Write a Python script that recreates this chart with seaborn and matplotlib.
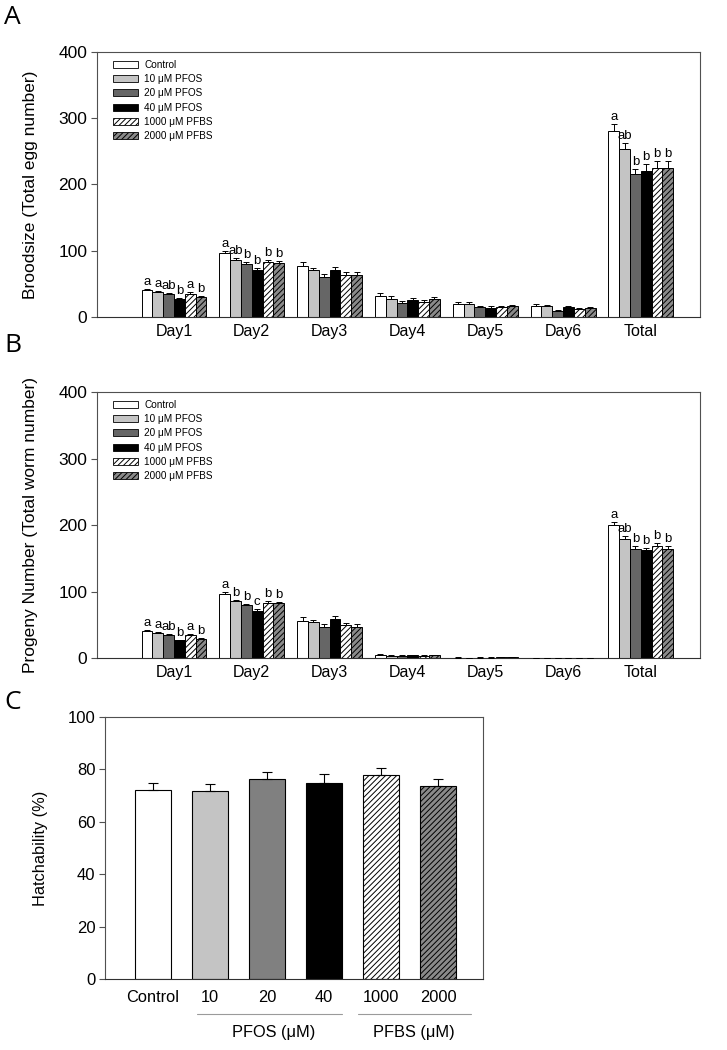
import numpy as np
import pandas as pd
import matplotlib
matplotlib.use('Agg')
import matplotlib.pyplot as plt
import seaborn as sns
from matplotlib.patches import Patch
import matplotlib.transforms as mtransforms

# -- data --
days = ['Day1', 'Day2', 'Day3', 'Day4', 'Day5', 'Day6', 'Total']
groups = ['Control', '10 \u03bcM PFOS', '20 \u03bcM PFOS', '40 \u03bcM PFOS',
          '1000 \u03bcM PFBS', '2000 \u03bcM PFBS']

# rows = days, columns = groups
brood_mean = [
    [40, 37.5, 34, 27, 35, 30],
    [96.5, 85.5, 79.5, 71.5, 83, 82],
    [77, 70.5, 60.5, 71.5, 63, 63],
    [32, 27.5, 21, 25, 22.5, 26.5],
    [20, 20, 15, 13.5, 15, 16],
    [16, 16, 9, 15, 11.5, 13],
    [281, 254, 216, 221, 225, 225],
]
brood_sem = [
    [3, 2, 2, 2, 2, 2],
    [3, 3, 3, 3, 3, 3],
    [6, 4, 4, 4, 5, 5],
    [4, 4, 3, 3, 3, 3],
    [2, 2, 2, 3, 1.5, 1.5],
    [3, 2, 1.5, 2, 1.5, 1.5],
    [10, 9, 8, 10, 11, 11],
]
brood_letters = [
    ['a', 'a', 'ab', 'b', 'a', 'b'],
    ['a', 'ab', 'b', 'b', 'b', 'b'],
    None, None, None, None,
    ['a', 'ab', 'b', 'b', 'b', 'b'],
]

progeny_mean = [
    [40, 37, 34, 26.5, 34, 29],
    [97, 86, 79.5, 71, 83.5, 82.5],
    [56, 53.5, 46.5, 58.5, 49, 46.5],
    [5, 3, 3.5, 4, 3.5, 4],
    [0.8, 0.5, 0.7, 0.7, 1.0, 0.9],
    [0.3, 0.2, 0.3, 0.4, 0.3, 0.5],
    [200, 179, 164, 162, 168, 164],
]
progeny_sem = [
    [2, 1.5, 1.5, 1, 1.5, 1.5],
    [3, 2, 2, 2, 2, 2],
    [5, 4, 4, 5, 4, 5],
    [1, 1, 1, 1, 1, 1],
    [0.3, 0.3, 0.3, 0.3, 0.3, 0.3],
    [0.2, 0.2, 0.2, 0.2, 0.2, 0.2],
    [4, 4, 4, 3, 5, 4],
]
progeny_letters = [
    ['a', 'a', 'ab', 'b', 'a', 'b'],
    ['a', 'b', 'b', 'c', 'b', 'b'],
    None, None, None, None,
    ['a', 'ab', 'b', 'b', 'b', 'b'],
]

hatch_labels = ['Control', '10', '20', '40', '1000', '2000']
hatch_mean = [72.3, 71.8, 76.3, 74.9, 77.7, 73.7]
hatch_sem = [2.4, 2.6, 2.8, 3.2, 2.7, 2.5]

colors_ab = ['white', '#c4c4c4', '#666666', 'black', 'white', '#8a8a8a']
colors_c = ['white', '#c4c4c4', '#808080', 'black', 'white', '#8a8a8a']
hatched = [False, False, False, False, True, True]

# -- style --
sns.set_style('ticks')
plt.rcParams['font.family'] = ['Liberation Sans', 'DejaVu Sans']
plt.rcParams['hatch.linewidth'] = 0.7
plt.rcParams['hatch.color'] = 'black'
for key in ['text.color', 'axes.labelcolor', 'xtick.labelcolor', 'ytick.labelcolor']:
    plt.rcParams[key] = 'black'

fig = plt.figure(figsize=(7.27, 10.5), dpi=100)
axA = fig.add_axes([0.1334, 0.6981, 0.8294, 0.2524])
axB = fig.add_axes([0.1334, 0.3733, 0.8294, 0.2533])
axC = fig.add_axes([0.1444, 0.0676, 0.5200, 0.2495])


def style_axes(ax):
    for s in ax.spines.values():
        s.set_visible(True)
        s.set_color('#505050')
        s.set_linewidth(0.8)
    ax.spines['bottom'].set_color('#303030')
    ax.tick_params(axis='y', direction='out', length=4, width=0.8,
                   color='#505050', labelsize=12.5, pad=3)
    ax.tick_params(axis='x', length=0, labelsize=11.5, pad=5)


def day_panel(ax, means, sems, letters, ylabel):
    rows = []
    for d, day in enumerate(days):
        for g, grp in enumerate(groups):
            rows.append({'day': day, 'group': grp, 'value': means[d][g]})
    df = pd.DataFrame(rows)
    sns.barplot(data=df, x='day', y='value', hue='group', order=days,
                hue_order=groups, palette=colors_ab, edgecolor='black',
                linewidth=0.7, width=0.835, errorbar=None, legend=False,
                ax=ax, zorder=2)
    bar_sets = list(ax.containers)
    for g, cont in enumerate(bar_sets):
        xs, ys, es = [], [], []
        for d, bar in enumerate(cont):
            if hatched[g]:
                bar.set_hatch('//////')
            x = bar.get_x() + bar.get_width() / 2
            xs.append(x)
            ys.append(bar.get_height())
            es.append(sems[d][g])
            if letters[d] is not None:
                ax.text(x, bar.get_height() + sems[d][g] + 1.5, letters[d][g],
                        ha='center', va='bottom', fontsize=9.5)
        ax.errorbar(xs, ys, yerr=[np.zeros(len(es)), es], fmt='none',
                    ecolor='black', elinewidth=0.7, capsize=2.5,
                    capthick=0.7, zorder=3)
    ax.set_ylim(0, 400)
    ax.set_yticks([0, 100, 200, 300, 400])
    ax.set_xlim(-0.99, 6.76)
    ax.set_xlabel('')
    ax.set_ylabel(ylabel, fontsize=12.5)
    ax.yaxis.set_label_coords(-0.098, 0.5)
    style_axes(ax)
    handles = [Patch(facecolor=colors_ab[i], edgecolor='black', linewidth=0.6,
                     hatch='//////' if hatched[i] else None, label=groups[i])
               for i in range(len(groups))]
    ax.legend(handles=handles, loc='upper left', bbox_to_anchor=(0.02, 0.985),
              frameon=False, fontsize=7.2, handlelength=2.5, handleheight=0.7,
              labelspacing=0.42, handletextpad=0.6, borderaxespad=0)


day_panel(axA, brood_mean, brood_sem, brood_letters, 'Broodsize (Total egg number)')
day_panel(axB, progeny_mean, progeny_sem, progeny_letters,
          'Progeny Number (Total worm number)')

# -- panel C --
sns.barplot(x=hatch_labels, y=hatch_mean, hue=hatch_labels, palette=colors_c,
            order=hatch_labels, hue_order=hatch_labels, edgecolor='black',
            linewidth=0.8, width=0.63, errorbar=None, legend=False, ax=axC,
            zorder=2)
bars = sorted(axC.patches, key=lambda p: p.get_x())
for i, bar in enumerate(bars):
    if hatched[i]:
        bar.set_hatch('//////')
xs = [b.get_x() + b.get_width() / 2 for b in bars]
ys = [b.get_height() for b in bars]
axC.errorbar(xs, ys, yerr=[np.zeros(len(hatch_sem)), hatch_sem], fmt='none',
             ecolor='black', elinewidth=0.8, capsize=3.5, capthick=0.8, zorder=3)
axC.set_ylim(0, 100)
axC.set_yticks([0, 20, 40, 60, 80, 100])
axC.set_xlim(-0.84, 5.79)
axC.set_ylabel('Hatchability (%)', fontsize=11.8)
axC.yaxis.set_label_coords(-0.15, 0.5)
style_axes(axC)
axC.tick_params(axis='y', labelsize=12)
axC.tick_params(axis='x', labelsize=11.8, pad=8)

trans = mtransforms.blended_transform_factory(axC.transData, axC.transAxes)
axC.plot([0.77, 3.32], [-0.134, -0.134], transform=trans, color='#9a9a9a',
         linewidth=0.8, clip_on=False)
axC.plot([3.6, 5.58], [-0.134, -0.134], transform=trans, color='#9a9a9a',
         linewidth=0.8, clip_on=False)
axC.text(2.12, -0.205, 'PFOS (\u03bcM)', transform=trans, ha='center',
         va='center', fontsize=11.8)
axC.text(4.57, -0.205, 'PFBS (\u03bcM)', transform=trans, ha='center',
         va='center', fontsize=11.8)

# panel letters
for lab, y in [('A', 0.995), ('B', 0.683), ('C', 0.343)]:
    fig.text(0.006, y, lab, fontsize=19, va='top', ha='left',
             family=['Open Sans', 'DejaVu Sans'])

fig.savefig('out.png', dpi=100)
